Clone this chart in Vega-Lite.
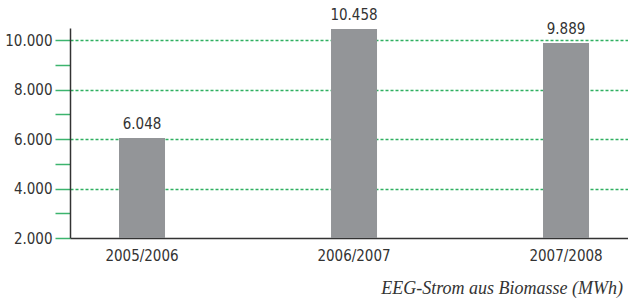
{
  "$schema": "https://vega.github.io/schema/vega-lite/v6.json",
  "autosize": "none",
  "width": 558,
  "height": 210,
  "padding": {"left": 70, "top": 28, "right": 0, "bottom": 66},
  "background": "white",
  "data": {"values": [
    {"period": "2005/2006", "mwh": 6048, "label": "6.048"},
    {"period": "2006/2007", "mwh": 10458, "label": "10.458"},
    {"period": "2007/2008", "mwh": 9889, "label": "9.889"}
  ]},
  "title": {
    "text": "EEG-Strom aus Biomasse (MWh)",
    "orient": "bottom",
    "anchor": "end",
    "font": "Liberation Serif",
    "fontStyle": "italic",
    "fontWeight": "normal",
    "fontSize": 18,
    "color": "#333333",
    "offset": 17,
    "dx": -5
  },
  "config": {
    "view": {"stroke": null},
    "font": "DejaVu Sans Condensed, Roboto, sans-serif"
  },
  "encoding": {
    "x": {
      "field": "period", "type": "nominal", "sort": null,
      "scale": {"paddingInner": 0.783, "paddingOuter": 0.2075, "align": 0.557},
      "axis": {
        "title": null, "labelAngle": 0, "ticks": false, "labelPadding": 10,
        "labelFont": "DejaVu Sans Condensed, Roboto, sans-serif", "labelFontSize": 15, "labelColor": "#333333",
        "domainColor": "#333333", "domainWidth": 1.5, "grid": false
      }
    },
    "y": {
      "field": "mwh", "type": "quantitative",
      "scale": {"domain": [2000, 10500], "nice": false, "zero": false},
      "axis": {
        "title": null,
        "values": [2000, 3000, 4000, 5000, 6000, 7000, 8000, 9000, 10000],
        "labelExpr": "datum.value % 2000 === 0 ? replace(format(datum.value, ','), ',', '.') : ''",
        "labelFont": "DejaVu Sans Condensed, Roboto, sans-serif", "labelFontSize": 15, "labelColor": "#333333",
        "labelPadding": 3,
        "tickSize": 15, "tickColor": "#3cb46e", "tickWidth": 1.5,
        "domainColor": "#333333", "domainWidth": 1.5,
        "grid": true, "gridColor": "#2fb060", "gridDash": [3, 2], "gridWidth": 1.5,
        "gridOpacity": {"condition": {"test": "datum.value % 2000 === 0 && datum.value > 2000", "value": 1}, "value": 0}
      }
    }
  },
  "layer": [
    {"mark": {"type": "bar", "color": "#939598", "clip": true}},
    {
      "mark": {"type": "text", "baseline": "bottom", "dy": -6, "fontSize": 15, "color": "#333333"},
      "encoding": {"text": {"field": "label"}}
    }
  ]
}
